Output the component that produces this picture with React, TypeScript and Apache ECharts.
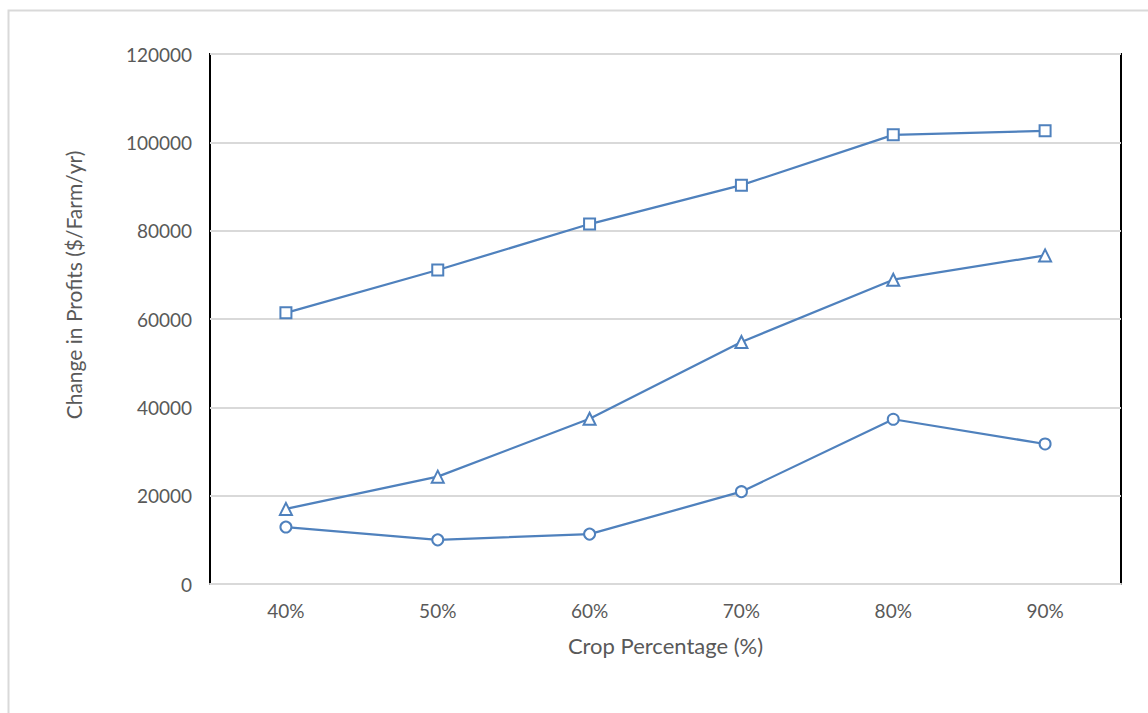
import React, { useEffect, useRef } from "react";
import * as echarts from "echarts";

const categories = ["40%", "50%", "60%", "70%", "80%", "90%"];
const squareSeries = [61400, 71100, 81500, 90300, 101700, 102600];
const triangleSeries = [17000, 24300, 37400, 54800, 68900, 74400];
const circleSeries = [12900, 10000, 11300, 20900, 37300, 31700];
const xTitle = "Crop Percentage (%)";
const yTitle = "Change in Profits ($/Farm/yr)";

const LINE = "#4F81BD";
const TEXT = "#595959";
const FONT = "Lato, 'Open Sans', sans-serif";

function mkSeries(data: number[], symbol: string, size: number) {
  return {
    type: "line",
    data,
    symbol,
    symbolSize: size,
    showAllSymbol: true,
    lineStyle: { color: LINE, width: 2.25 },
    itemStyle: { color: "#ffffff", borderColor: LINE, borderWidth: 2 },
    z: 3,
  };
}

export default function App() {
  const ref = useRef<HTMLDivElement>(null);
  useEffect(() => {
    if (!ref.current) return;
    const chart = echarts.init(ref.current, null, { renderer: "svg" });
    chart.setOption({
      animation: false,
      backgroundColor: "#ffffff",
      textStyle: { fontFamily: FONT },
      graphic: [
        {
          type: "rect",
          shape: { x: 8.5, y: 10.5, width: 1160, height: 720 },
          style: { fill: "none", stroke: "#d9d9d9", lineWidth: 2 },
          silent: true,
        },
        {
          type: "text",
          x: 73,
          y: 285,
          rotation: Math.PI / 2,
          style: {
            text: yTitle,
            fill: TEXT,
            font: `21px ${FONT}`,
            align: "center",
            verticalAlign: "middle",
          },
          silent: true,
        },
      ],
      grid: {
        left: 210,
        top: 54,
        width: 911,
        height: 530,
        show: true,
        borderColor: "#000000",
        borderWidth: 2,
        backgroundColor: "transparent",
      },
      xAxis: {
        type: "category",
        data: categories,
        boundaryGap: true,
        name: xTitle,
        nameLocation: "middle",
        nameGap: 50,
        nameTextStyle: { color: TEXT, fontSize: 22, fontFamily: FONT },
        axisLine: { show: true, lineStyle: { color: "#d9d9d9", width: 2 } },
        axisTick: { show: false },
        axisLabel: { color: TEXT, fontSize: 19, margin: 17, fontFamily: FONT },
        z: 5,
      },
      yAxis: {
        type: "value",
        min: 0,
        max: 120000,
        interval: 20000,
        axisLine: { show: false },
        axisTick: { show: false },
        axisLabel: {
          color: TEXT,
          fontSize: 19,
          margin: 18,
          fontFamily: FONT,
          formatter: (v: number) => String(v),
        },
        splitLine: { show: true, lineStyle: { color: "#d9d9d9", width: 2 } },
      },
      series: [
        mkSeries(squareSeries, "rect", 11),
        mkSeries(triangleSeries, "triangle", 12),
        mkSeries(circleSeries, "circle", 11),
      ],
    });
    return () => chart.dispose();
  }, []);
  return (
    <div
      ref={ref}
      style={{ position: "absolute", left: 0, top: 0, width: 1148, height: 713 }}
    />
  );
}
